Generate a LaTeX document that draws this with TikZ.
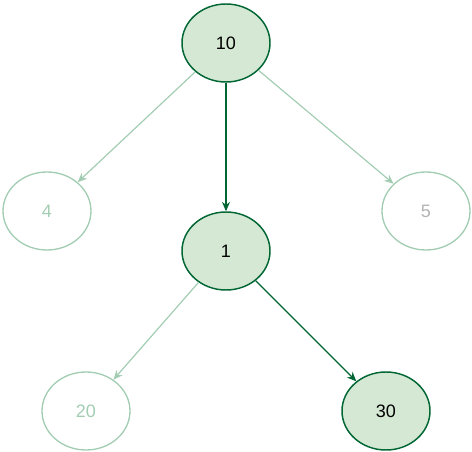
\documentclass[tikz,border=0pt]{standalone}
\usepackage{fontspec}
\setmainfont{Liberation Sans}
\usetikzlibrary{arrows.meta,shapes.geometric}
\definecolor{onfill}{HTML}{D5E8D4}
\definecolor{ondraw}{HTML}{006633}
\definecolor{offdraw}{HTML}{A3CDB3}
\definecolor{offtext}{HTML}{B3B3B3}
\begin{document}
\begin{tikzpicture}[x=0.75pt,y=-0.75pt,
	on/.style={ellipse,draw=ondraw,fill=onfill,line width=1.1pt,minimum width=66pt,minimum height=58.5pt,inner sep=0pt,font=\fontsize{13.5}{16}\selectfont},
	off/.style={ellipse,draw=offdraw,line width=1pt,minimum width=66pt,minimum height=58.5pt,inner sep=0pt,text=offdraw,font=\fontsize{13.5}{16}\selectfont},
	onarr/.style={-{Stealth[length=7pt,width=6pt]},ondraw,line width=0.9pt},
	offarr/.style={-{Stealth[length=7pt,width=6pt]},offdraw,line width=0.9pt}]
	\useasboundingbox (0,0) rectangle (472,452);
	\node[on] (n10) at (226,43) {10};
	\node[off] (n4) at (47,211) {4}; \node[off,text=offtext] (n5) at (426,211) {5};
	\node[on] (n1) at (226,251) {1};
	\node[off] (n20) at (86,411) {20}; \node[on] (n30) at (386,411) {30};
	
	\draw[offarr] (n10) -- (n4); \draw[offarr] (n10) -- (n5);
	\draw[onarr] (n10) -- (n1);
	\draw[offarr] (n1) -- (n20); \draw[onarr] (n1) -- (n30);
\end{tikzpicture}
\end{document}
